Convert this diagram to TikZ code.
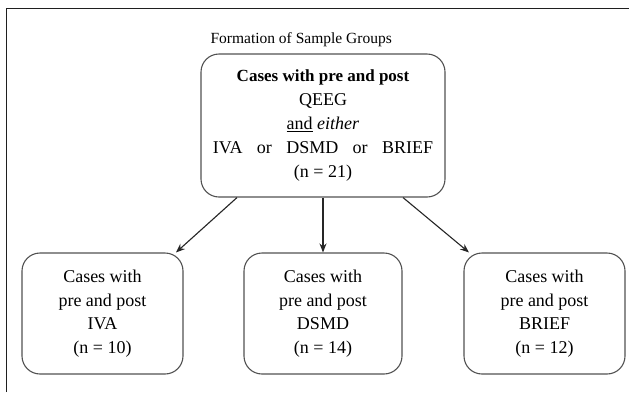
\documentclass[tikz,border=0pt]{standalone}
\usepackage{fontspec}
\setmainfont{LiberationSerif}[Extension=.ttf, UprightFont=*-Regular, BoldFont=*-Bold, ItalicFont=*-Italic, BoldItalicFont=*-BoldItalic]
\usetikzlibrary{arrows.meta}
\begin{document}
\begin{tikzpicture}[x=1pt,y=-1pt,
  box/.style={draw=black!68, line width=1.1pt, rounded corners=18pt, align=center, inner sep=0pt},
  bigbox/.style={box, minimum width=244pt, minimum height=143pt, font=\fontsize{18}{24}\selectfont},
  smallbox/.style={box, minimum height=121pt, font=\fontsize{18}{23.5}\selectfont},
  arr/.style={draw=black!85, line width=1.1pt, -{Stealth[length=9pt,width=7pt]}},
  frame/.style={draw=black!88, line width=1.7pt}]
\useasboundingbox (0,0) rectangle (629,392);
\fill[white] (0,0) rectangle (629,392);
\draw[frame] (6.5,392) -- (6.5,8.5) -- (629,8.5);
\node[anchor=base west, font=\fontsize{15.5}{18}\selectfont] (title) at (207,43) {Formation of Sample Groups};
\node[bigbox] (main) at (323,125.5) {{\fontsize{17}{24}\selectfont\bfseries Cases with pre and post}\\ QEEG\\ \underline{and} \textit{either}\\ IVA\hspace{0.8em}or\hspace{0.8em}DSMD\hspace{0.8em}or\hspace{0.8em}BRIEF\\ (n = 21)};
\node[smallbox, minimum width=161pt] (lbox) at (102.5,313.5) {Cases with\\ pre and post\\ IVA\\ (n = 10)};
\node[smallbox, minimum width=158pt] (mbox) at (323,313.5) {Cases with\\ pre and post\\ DSMD\\ (n = 14)};
\node[smallbox, minimum width=161pt] (rbox) at (544.5,313.5) {Cases with\\ pre and post\\ BRIEF\\ (n = 12)};
\draw[arr] ([xshift=-86pt]main.south) -- ([xshift=73.5pt]lbox.north);
\draw[arr] (main.south) -- (mbox.north);
\draw[arr] ([xshift=80pt]main.south) -- ([xshift=-75.5pt]rbox.north);
\end{tikzpicture}
\end{document}
